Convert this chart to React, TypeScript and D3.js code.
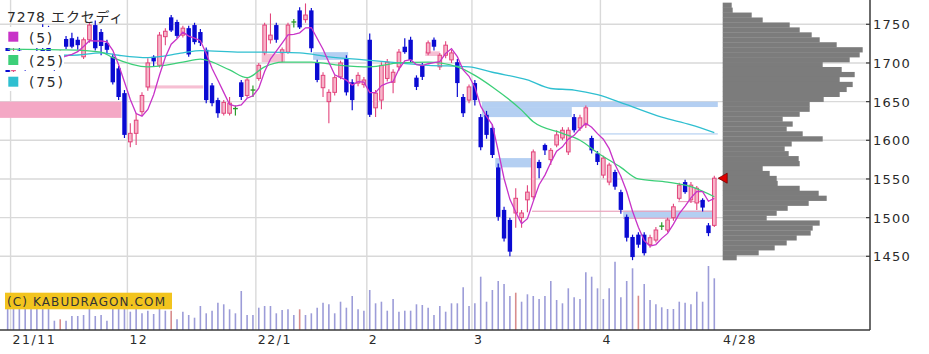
import React from "react";
import * as d3 from "d3";

// ---------- DATA ----------
const dates = [
  "2021-10-29",
  "2021-11-01","2021-11-02","2021-11-04","2021-11-05","2021-11-08","2021-11-09","2021-11-10","2021-11-11","2021-11-12","2021-11-15",
  "2021-11-16","2021-11-17","2021-11-18","2021-11-19","2021-11-22","2021-11-24","2021-11-25","2021-11-26","2021-11-29","2021-11-30",
  "2021-12-01","2021-12-02","2021-12-03","2021-12-06","2021-12-07","2021-12-08","2021-12-09","2021-12-10","2021-12-13","2021-12-14",
  "2021-12-15","2021-12-16","2021-12-17","2021-12-20","2021-12-21","2021-12-22","2021-12-23","2021-12-24","2021-12-27","2021-12-28",
  "2021-12-29","2021-12-30",
  "2022-01-04","2022-01-05","2022-01-06","2022-01-07","2022-01-11","2022-01-12","2022-01-13","2022-01-14","2022-01-17","2022-01-18",
  "2022-01-19","2022-01-20","2022-01-21","2022-01-24","2022-01-25","2022-01-26","2022-01-27","2022-01-28","2022-01-31",
  "2022-02-01","2022-02-02","2022-02-03","2022-02-04","2022-02-07","2022-02-08","2022-02-09","2022-02-10","2022-02-14","2022-02-15",
  "2022-02-16","2022-02-17","2022-02-18","2022-02-21","2022-02-22","2022-02-24","2022-02-25","2022-02-28",
  "2022-03-01","2022-03-02","2022-03-03","2022-03-04","2022-03-07","2022-03-08","2022-03-09","2022-03-10","2022-03-11","2022-03-14",
  "2022-03-15","2022-03-16","2022-03-17","2022-03-18","2022-03-22","2022-03-23","2022-03-24","2022-03-25","2022-03-28","2022-03-29",
  "2022-03-30","2022-03-31",
  "2022-04-01","2022-04-04","2022-04-05","2022-04-06","2022-04-07","2022-04-08","2022-04-11","2022-04-12","2022-04-13","2022-04-14",
  "2022-04-15","2022-04-18","2022-04-19","2022-04-20","2022-04-21","2022-04-22","2022-04-25","2022-04-26","2022-04-27","2022-04-28",
];

const opens = [
  1722,1690,1716,1702,1696,1712,1718,1722,1704,1696,
  1731,1732,1730,1708,1730,1749,1740,1726,1708,1693,
  1661,1598,1609,1637,1669,1708,1697,1734,1759,1753,
  1736,1745,1749,1740,1717,1671,1652,1635,1635,1641,
  1675,1658,1665,1680,1713,1730,1749,1713,1714,1753,
  1768,1756,1768,1701,1668,1650,1662,1682,1706,1675,
  1674,1672,1730,1642,1652,1680,1675,1695,1721,1730,
  1681,1697,1713,1730,1695,1710,1704,1701,1656,1652,
  1674,1630,1633,1616,1565,1510,1497,1506,1500,1523,
  1527,1572,1594,1575,1594,1603,1585,1630,1616,1620,
  1603,1583,1555,1546,1559,1533,1501,1475,1478,1478,
  1465,1471,1489,1484,1500,1525,1546,1523,1519,1523,
  1490,1490,
];
const highs = [
  1728,1720,1722,1710,1712,1720,1750,1748,1712,1716,
  1735,1739,1734,1733,1752,1755,1744,1730,1712,1696,
  1665,1622,1635,1662,1706,1710,1740,1745,1762,1756,
  1748,1748,1752,1744,1720,1674,1655,1652,1656,1645,
  1678,1681,1671,1700,1752,1764,1752,1720,1752,1757,
  1772,1777,1771,1704,1688,1666,1684,1703,1710,1679,
  1688,1682,1738,1665,1701,1705,1692,1718,1732,1734,
  1684,1700,1729,1733,1713,1728,1717,1705,1660,1672,
  1678,1634,1638,1620,1570,1514,1500,1538,1510,1542,
  1588,1575,1596,1590,1613,1617,1617,1634,1633,1645,
  1606,1586,1580,1571,1562,1536,1504,1478,1481,1481,
  1478,1488,1494,1500,1518,1545,1549,1546,1541,1525,
  1493,1554,
];
const lows = [
  1684,1686,1700,1690,1692,1700,1705,1702,1690,1694,
  1718,1719,1717,1705,1726,1716,1710,1712,1672,1652,
  1603,1591,1594,1632,1664,1695,1694,1723,1740,1732,
  1733,1708,1724,1722,1648,1644,1629,1632,1632,1632,
  1652,1655,1656,1677,1710,1725,1726,1701,1712,1746,
  1744,1752,1714,1675,1656,1622,1658,1679,1658,1639,
  1670,1668,1630,1630,1640,1676,1661,1690,1712,1700,
  1665,1678,1710,1716,1691,1706,1700,1656,1630,1648,
  1645,1587,1602,1577,1496,1469,1450,1487,1487,1507,
  1523,1551,1581,1568,1591,1600,1581,1610,1612,1616,
  1583,1568,1551,1542,1536,1505,1469,1445,1461,1451,
  1461,1468,1484,1481,1496,1522,1531,1519,1510,1508,
  1476,1488,
];
const closes = [
  1688,1714,1704,1694,1708,1705,1710,1706,1696,1712,
  1721,1721,1723,1730,1749,1719,1722,1717,1675,1656,
  1607,1609,1626,1658,1700,1702,1736,1741,1742,1735,
  1745,1711,1727,1726,1652,1648,1635,1649,1648,1641,
  1656,1678,1665,1697,1749,1736,1730,1717,1749,1753,
  1746,1762,1719,1678,1684,1662,1681,1700,1662,1652,
  1684,1678,1633,1661,1697,1701,1688,1714,1714,1704,
  1669,1682,1726,1721,1710,1723,1713,1674,1635,1669,
  1652,1591,1607,1581,1501,1473,1456,1525,1506,1533,
  1585,1564,1587,1587,1607,1613,1613,1613,1629,1642,
  1587,1572,1577,1568,1540,1510,1474,1449,1465,1454,
  1474,1484,1489,1497,1514,1542,1533,1542,1538,1513,
  1480,1551,
];
const volumes = [
  30,28,26,27,25,30,27,24,9.3,10.7,
  9.3,14,14,15,24,14,15,9.3,25,25,
  24,18.3,24,16.7,19.3,16,24,19.3,19.3,10.7,
  18.3,15,12.3,24,16.7,19.3,27.3,25.7,20.7,16.7,
  39,15,15,22.3,24,24,16.7,20,20.7,15,
  20.7,15,16.7,22.3,27.3,25.7,16.7,28.3,22.3,34,
  20.7,19.3,40,26.7,28.3,19.3,31,18.3,19.3,19.3,
  25.7,25,22.3,15,24,18.3,26.7,26.7,42.7,24,
  26.7,53.3,28.3,40,49,46,34,37.3,28.3,35.7,
  34,31,34,49,30,26.7,41.7,32.7,31,57.7,
  53.3,41.7,31,41.7,68.3,32.7,49,61.7,34.3,46,
  30,25.7,22.7,21,21,28.3,27.3,25.7,38.3,28.3,
  64,51.7,
];
// days whose volume bar is drawn red
const redVolumeDays = ["2021-11-12", "2021-12-10", "2022-01-14", "2022-03-10", "2022-04-11"];

// moving averages: [date index, price]
const ma25Points = [
  [0,1718],[10,1717],[16,1714],[18,1707],[24,1695],[30,1701],[33,1705],[38,1691],[41,1681],
  [44,1695],[47,1701],[52,1701],[57,1697],[62,1695],[67,1700],[72,1701],[77,1695],[80,1684],
  [83,1669],[88,1639],[90,1624],[95,1609],[98,1600],[101,1584],[105,1565],[108,1550],
  [113,1546],[117,1540],[121,1527],
];
const ma75Points = [
  [0,1711],[11,1710],[16,1713],[19,1710],[24,1707],[30,1713],[33,1716],[40,1714],[44,1714],
  [50,1713],[55,1708],[61,1704],[67,1700],[72,1697],[79,1695],[83,1688],[89,1678],[93,1667],
  [97,1665],[101,1659],[106,1646],[112,1630],[117,1620],[121,1610],
];

// price zones: [from index, to index, low, high, kind]
const zones: [number, number, number, number, string][] = [
  [-2, 19.5, 1629, 1650, "pink"],
  [23.9, 33.5, 1667, 1671, "palePink"],
  [43.5, 47.5, 1701, 1712, "palePink"],
  [52.3, 58.3, 1704, 1714, "blue"],
  [71.5, 74, 1709, 1715, "palePink"],
  [81.2, 121.6, 1643, 1650, "blue"],
  [81.2, 96.6, 1630, 1643, "blue"],
  [101.4, 121.6, 1607.5, 1609, "blue"],
  [83.5, 89.8, 1565, 1577, "blue"],
  [105.4, 120.6, 1499, 1509, "blue"],
  [89.8, 120.6, 1507.5, 1509, "pinkLine"],
  [105.4, 120.6, 1498.5, 1500, "pinkLine"],
  [114.8, 119.4, 1520, 1521.5, "pinkLine"],
];

// volume-by-price profile (top bin first)
const profileTop = 1778;
const profileBin = 6.4;
const profileVolumes = [
  9,10,29,40,67,77,89,97,114,140,137,127,100,119,132,117,130,124,117,101,
  87,87,77,60,70,64,80,100,69,62,66,76,77,40,47,54,55,77,96,104,
  86,65,54,44,97,90,88,74,64,52,36,14,
];

const priceTicks = [1450, 1500, 1550, 1600, 1650, 1700, 1750];
const monthTickDates = ["2021-11-01", "2021-12-01", "2022-01-04", "2022-02-01", "2022-03-01", "2022-04-01"];
const monthTickLabels = ["21/11", "12", "22/1", "2", "3", "4"];
const lastLabel = "4/28";
const title = "7278 エクセディ";
const legendLabels = ["(5)", "(25)", "(75)"];
const copyright = "(C) KABUDRAGON.COM";

// ---------- STYLE ----------
const C = {
  grid: "#d9d9d9",
  up: "#e2457c",
  upFill: "#f7b4c9",
  down: "#0a0ad2",
  doji: "#2a9a2a",
  ma5: "#c833c8",
  ma25: "#3ccf78",
  ma75: "#2fbfd0",
  vol: "#9c9cd8",
  volRed: "#d88c8c",
  profile: "#7c7c7c",
  pink: "#f4a8c5",
  palePink: "#f6bfd3",
  blue: "#b4cff2",
  pinkLine: "#eaa2bb",
  axis: "#3a3a3a",
  text: "#2a2a2a",
};

export default function App() {
  const n = dates.length;
  const x = d3.scaleLinear().domain([0, n - 1]).range([7.66, 714.3]);
  const y = d3.scaleLinear().domain([1450, 1750]).range([256.3, 24.3]);
  const yv = d3.scaleLinear().domain([0, 70]).range([330, 260]);
  const xp = d3.scaleLinear().domain([0, 140]).range([722.7, 862.7]);
  const step = x(1) - x(0);
  const axisX = 870;
  const baseY = 330;

  const ma5: [number, number][] = [];
  for (let j = 4; j < n; j++) {
    ma5.push([j, d3.mean(closes.slice(j - 4, j + 1)) as number]);
  }
  const line = d3
    .line<number[]>()
    .x((d) => x(d[0]))
    .y((d) => y(d[1]));
  const smooth = d3
    .line<number[]>()
    .x((d) => x(d[0]))
    .y((d) => y(d[1]))
    .curve(d3.curveMonotoneX);

  const monthIdx = monthTickDates.map((d) => dates.indexOf(d));
  const lastClose = closes[n - 1];

  const numFont = "'DejaVu Sans', sans-serif";

  return (
    <svg
      width={929}
      height={354}
      style={{ position: "fixed", left: 0, top: 0, background: "#fff" }}
      fontFamily={numFont}
    >
      <rect x={0} y={0} width={929} height={354} fill="#fff" />
      <defs>
        <clipPath id="plot">
          <rect x={0} y={0} width={722} height={330} />
        </clipPath>
      </defs>

      {/* grid */}
      {priceTicks.map((p) => (
        <line key={p} x1={0} x2={axisX} y1={y(p)} y2={y(p)} stroke={C.grid} strokeWidth={1.4} />
      ))}
      {monthIdx.map((j, k) => (
        <line key={k} x1={x(j) - step / 2} x2={x(j) - step / 2} y1={0} y2={baseY} stroke={C.grid} strokeWidth={1.4} />
      ))}

      <g clipPath="url(#plot)">
        {/* zones */}
        {zones.map((z, k) => (
          <rect
            key={k}
            x={x(z[0])}
            width={x(z[1]) - x(z[0])}
            y={y(z[3])}
            height={y(z[2]) - y(z[3])}
            fill={(C as any)[z[4]]}
          />
        ))}

        {/* volume */}
        {volumes.map((v, j) => (
          <line
            key={j}
            x1={x(j)}
            x2={x(j)}
            y1={yv(0)}
            y2={yv(v)}
            stroke={redVolumeDays.includes(dates[j]) ? C.volRed : C.vol}
            strokeWidth={1.6}
          />
        ))}

        {/* candles */}
        {dates.map((d, j) => {
          const o = opens[j], h = highs[j], l = lows[j], c = closes[j];
          const cx = x(j);
          if (o === c) {
            return (
              <g key={d}>
                <line x1={cx} x2={cx} y1={y(h)} y2={y(l)} stroke={C.doji} strokeWidth={1.2} />
                <line x1={cx - 2.4} x2={cx + 2.4} y1={y(c)} y2={y(c)} stroke={C.doji} strokeWidth={1.4} />
              </g>
            );
          }
          if (c > o) {
            return (
              <g key={d}>
                <line x1={cx} x2={cx} y1={y(h)} y2={y(l)} stroke={C.up} strokeWidth={1.1} />
                <rect x={cx - 1.8} width={3.6} y={y(c)} height={Math.max(1, y(o) - y(c))} fill={C.upFill} stroke={C.up} strokeWidth={1} />
              </g>
            );
          }
          return (
            <g key={d}>
              <line x1={cx} x2={cx} y1={y(h)} y2={y(l)} stroke={C.down} strokeWidth={1.2} />
              <rect x={cx - 2.2} width={4.4} y={y(o)} height={Math.max(1, y(c) - y(o))} fill={C.down} />
            </g>
          );
        })}

        {/* moving averages */}
        <path d={smooth(ma75Points) || ""} fill="none" stroke={C.ma75} strokeWidth={1.3} />
        <path d={smooth(ma25Points) || ""} fill="none" stroke={C.ma25} strokeWidth={1.3} />
        <path d={line(ma5) || ""} fill="none" stroke={C.ma5} strokeWidth={1.3} />
      </g>

      {/* volume profile */}
      {profileVolumes.map((v, k) => {
        const pTop = profileTop - k * profileBin;
        const pBot = pTop - profileBin;
        return (
          <rect key={k} x={xp(0)} width={xp(v) - xp(0)} y={y(pTop)} height={y(pBot) - y(pTop) + 0.3} fill={C.profile} />
        );
      })}

      {/* current price marker */}
      <path
        d={`M${xp(0) - 4.5},${y(lastClose)} L${xp(0) + 4.5},${y(lastClose) - 5} L${xp(0) + 4.5},${y(lastClose) + 5} Z`}
        fill="#e00000"
        stroke="#700"
        strokeWidth={0.8}
      />

      {/* axes */}
      <line x1={axisX} x2={axisX} y1={0} y2={baseY} stroke={C.axis} strokeWidth={1.5} />
      <line x1={0} x2={axisX} y1={baseY} y2={baseY} stroke={C.axis} strokeWidth={1.5} />
      {priceTicks.map((p) => (
        <g key={p}>
          <line x1={866} x2={axisX} y1={y(p)} y2={y(p)} stroke={C.axis} strokeWidth={1.2} />
          <text x={873} y={y(p) + 5} fontSize={13} fill={C.text} letterSpacing={1.2}>
            {p}
          </text>
        </g>
      ))}
      {monthIdx.map((j, k) => (
        <text key={k} x={x(j) - step / 2 + 2} y={344} fontSize={12.5} fill={C.text} letterSpacing={1.5}>
          {monthTickLabels[k]}
        </text>
      ))}
      <text x={723} y={344} fontSize={12.5} fill={C.text} letterSpacing={1.5}>
        {lastLabel}
      </text>

      {/* legend */}
      <rect x={0} y={27} width={64} height={21} fill="#fff" />
      <rect x={0} y={51} width={64} height={19} fill="#fff" />
      <rect x={0} y={72} width={64} height={19} fill="#fff" />
      <text x={7} y={21.5} fontSize={14} fill={C.text} letterSpacing={0.8} fontFamily="'DejaVu Sans', 'Noto Sans CJK JP', sans-serif">
        {title}
      </text>
      {[C.ma5, C.ma25, C.ma75].map((col, k) => (
        <g key={k}>
          <rect x={8.3} y={[31.7, 55, 76.7][k]} width={10} height={10} fill={col} />
          <text x={29} y={[43.3, 66, 87][k]} fontSize={14} fill={C.text} letterSpacing={1.7}>
            {legendLabels[k]}
          </text>
        </g>
      ))}

      {/* copyright */}
      <rect x={5} y={292.7} width={167} height={16.6} fill="#f2c41e" />
      <text x={7} y={305.5} fontSize={12} fill="#333" textLength={158} lengthAdjust="spacing">
        {copyright}
      </text>
    </svg>
  );
}
